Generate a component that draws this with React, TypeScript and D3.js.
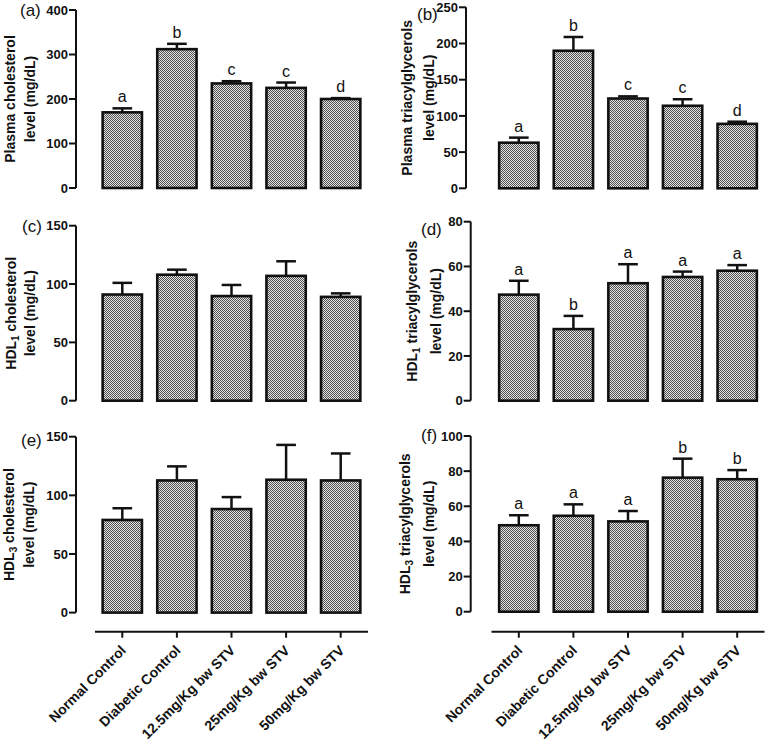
import React from "react";
import * as d3 from "d3";

const groups = [
  "Normal Control",
  "Diabetic Control",
  "12.5mg/Kg bw STV",
  "25mg/Kg bw STV",
  "50mg/Kg bw STV",
];

const plasmaCholMean = [170, 312, 235, 225, 200];
const plasmaCholErr = [9, 12, 5, 12, 2];
const plasmaCholLetters = ["a", "b", "c", "c", "d"];
const plasmaCholTicks = [0, 100, 200, 300, 400];

const plasmaTagMean = [63, 190, 124, 114, 89];
const plasmaTagErr = [7, 19, 3, 9, 3];
const plasmaTagLetters = ["a", "b", "c", "c", "d"];
const plasmaTagTicks = [0, 50, 100, 150, 200, 250];

const hdl1CholMean = [91, 108, 89.7, 107, 89];
const hdl1CholErr = [10, 4.3, 9.5, 12.5, 3];
const hdl1CholLetters = ["", "", "", "", ""];
const hdl1CholTicks = [0, 50, 100, 150];

const hdl1TagMean = [47.4, 32, 52.5, 55.3, 58.1];
const hdl1TagErr = [6.2, 5.9, 8.5, 2.4, 2.5];
const hdl1TagLetters = ["a", "b", "a", "a", "a"];
const hdl1TagTicks = [0, 20, 40, 60, 80];

const hdl3CholMean = [79, 112.7, 88.3, 113.3, 112.7];
const hdl3CholErr = [10, 12, 10.2, 29.7, 23];
const hdl3CholLetters = ["", "", "", "", ""];
const hdl3CholTicks = [0, 50, 100, 150];

const hdl3TagMean = [49.2, 54.6, 51.4, 76.3, 75.4];
const hdl3TagErr = [5.7, 6.5, 5.9, 10.8, 5.2];
const hdl3TagLetters = ["a", "a", "a", "b", "b"];
const hdl3TagTicks = [0, 20, 40, 60, 80, 100];

const FONT = "'Liberation Sans', Arial, Helvetica, sans-serif";

type Panel = {
  tag: string;
  line1: string;
  sub?: string;
  line1b: string;
  line2: string;
  mean: number[];
  err: number[];
  letters: string[];
  ticks: number[];
  axisX: number;
  top: number;
  bottom: number;
  x0: number;
  x1: number;
  t1x: number;
  t2x: number;
  tagX: number;
  tagY: number;
};

const panels: Panel[] = [
  { tag: "(a)", line1: "Plasma cholesterol", line1b: "", line2: "level (mg/dL)", mean: plasmaCholMean, err: plasmaCholErr, letters: plasmaCholLetters, ticks: plasmaCholTicks, axisX: 76, top: 10, bottom: 188, x0: 95, x1: 368, t1x: 10, t2x: 30, tagX: 20, tagY: 16 },
  { tag: "(b)", line1: "Plasma triacylglycerols", line1b: "", line2: "level (mg/dL)", mean: plasmaTagMean, err: plasmaTagErr, letters: plasmaTagLetters, ticks: plasmaTagTicks, axisX: 466, top: 7.3, bottom: 188.3, x0: 491.5, x1: 764.5, t1x: 407, t2x: 429, tagX: 417, tagY: 20 },
  { tag: "(c)", line1: "HDL", sub: "1", line1b: " cholesterol", line2: "level (mg/dL)", mean: hdl1CholMean, err: hdl1CholErr, letters: hdl1CholLetters, ticks: hdl1CholTicks, axisX: 76, top: 225.7, bottom: 400.7, x0: 95, x1: 368, t1x: 11, t2x: 30, tagX: 22, tagY: 232 },
  { tag: "(d)", line1: "HDL", sub: "1", line1b: " triacylglycerols", line2: "level (mg/dL)", mean: hdl1TagMean, err: hdl1TagErr, letters: hdl1TagLetters, ticks: hdl1TagTicks, axisX: 470.7, top: 221.7, bottom: 400.7, x0: 491.5, x1: 764.5, t1x: 412, t2x: 436, tagX: 421, tagY: 235 },
  { tag: "(e)", line1: "HDL", sub: "3", line1b: " cholesterol", line2: "level (mg/dL)", mean: hdl3CholMean, err: hdl3CholErr, letters: hdl3CholLetters, ticks: hdl3CholTicks, axisX: 76, top: 436.7, bottom: 612.6, x0: 95, x1: 368, t1x: 9, t2x: 29, tagX: 21, tagY: 446 },
  { tag: "(f)", line1: "HDL", sub: "3", line1b: " triacylglycerols", line2: "level (mg/dL)", mean: hdl3TagMean, err: hdl3TagErr, letters: hdl3TagLetters, ticks: hdl3TagTicks, axisX: 470.7, top: 436, bottom: 611.7, x0: 491.5, x1: 764.5, t1x: 405, t2x: 429, tagX: 421, tagY: 441 },
];

function PanelView({ p }: { p: Panel }) {
  const x = d3.scaleBand<string>().domain(groups).range([p.x0, p.x1]).paddingInner(0.28).paddingOuter(0.14);
  const maxV = p.ticks[p.ticks.length - 1];
  const y = d3.scaleLinear().domain([0, maxV]).range([p.bottom, p.top]);
  const cy = (p.top + p.bottom) / 2;
  const bw = x.bandwidth();
  return (
    <g>
      <line x1={p.axisX} x2={p.axisX} y1={y(maxV)} y2={y(0)} stroke="#111" strokeWidth={2} />
      {p.ticks.map((t) => (
        <g key={t}>
          <line x1={p.axisX - 7} x2={p.axisX} y1={y(t)} y2={y(t)} stroke="#111" strokeWidth={2} />
          <text x={p.axisX - 8} y={y(t)} dy="0.36em" textAnchor="end" fontSize={13} fontWeight="bold" fontFamily={FONT} fill="#111">
            {t}
          </text>
        </g>
      ))}
      <text transform={`translate(${p.t1x},${cy}) rotate(-90)`} textAnchor="middle" dy="0.36em" fontSize={14} fontWeight="bold" fontFamily={FONT} fill="#111">
        {p.line1}
        {p.sub ? (
          <tspan fontSize={10} dy="3">{p.sub}</tspan>
        ) : null}
        {p.sub ? <tspan dy="-3">{p.line1b}</tspan> : null}
      </text>
      <text transform={`translate(${p.t2x},${cy}) rotate(-90)`} textAnchor="middle" dy="0.36em" fontSize={14} fontWeight="bold" fontFamily={FONT} fill="#111">
        {p.line2}
      </text>
      <text x={p.tagX} y={p.tagY} fontSize={17} fontFamily={FONT} fill="#111">
        {p.tag}
      </text>
      {groups.map((g, i) => {
        const bx = x(g) as number;
        const cx = bx + bw / 2;
        const top = y(p.mean[i]);
        const et = y(p.mean[i] + p.err[i]);
        return (
          <g key={g}>
            <line x1={cx} x2={cx} y1={top} y2={et} stroke="#111" strokeWidth={2.5} />
            <line x1={cx - bw / 4} x2={cx + bw / 4} y1={et} y2={et} stroke="#111" strokeWidth={2.5} />
            <rect x={bx} y={top} width={bw} height={y(0) - top} fill="url(#checker)" stroke="#111" strokeWidth={2.6} />
            {p.letters[i] ? (
              <text x={cx} y={et - 6} textAnchor="middle" fontSize={16} fontFamily={FONT} fill="#111">
                {p.letters[i]}
              </text>
            ) : null}
          </g>
        );
      })}
    </g>
  );
}

function XAxis({ x0, x1 }: { x0: number; x1: number }) {
  const x = d3.scaleBand<string>().domain(groups).range([x0, x1]).paddingInner(0.28).paddingOuter(0.14);
  const yLine = 631.7;
  return (
    <g>
      <line x1={x0} x2={x1} y1={yLine} y2={yLine} stroke="#111" strokeWidth={2} />
      {groups.map((g) => {
        const cx = (x(g) as number) + x.bandwidth() / 2;
        return (
          <g key={g}>
            <line x1={cx} x2={cx} y1={yLine} y2={yLine + 6} stroke="#111" strokeWidth={2} />
            <text transform={`translate(${cx + 1},${yLine + 16}) rotate(-45)`} textAnchor="end" dy="0.36em" fontSize={14} fontWeight="bold" fontFamily={FONT} fill="#111">
              {g}
            </text>
          </g>
        );
      })}
    </g>
  );
}

export default function App() {
  return (
    <svg width={767} height={744} style={{ position: "absolute", left: 0, top: 0, background: "#fff" }}>
      <defs>
        <pattern id="checker" width={2} height={2} patternUnits="userSpaceOnUse">
          <rect width={2} height={2} fill="#e4e4e4" />
          <rect x={0} y={0} width={1} height={1} fill="#505050" />
          <rect x={1} y={1} width={1} height={1} fill="#505050" />
        </pattern>
      </defs>
      <rect width={767} height={744} fill="#fff" />
      {panels.map((p) => (
        <PanelView key={p.tag} p={p} />
      ))}
      <XAxis x0={95} x1={368} />
      <XAxis x0={491.5} x1={764.5} />
    </svg>
  );
}
